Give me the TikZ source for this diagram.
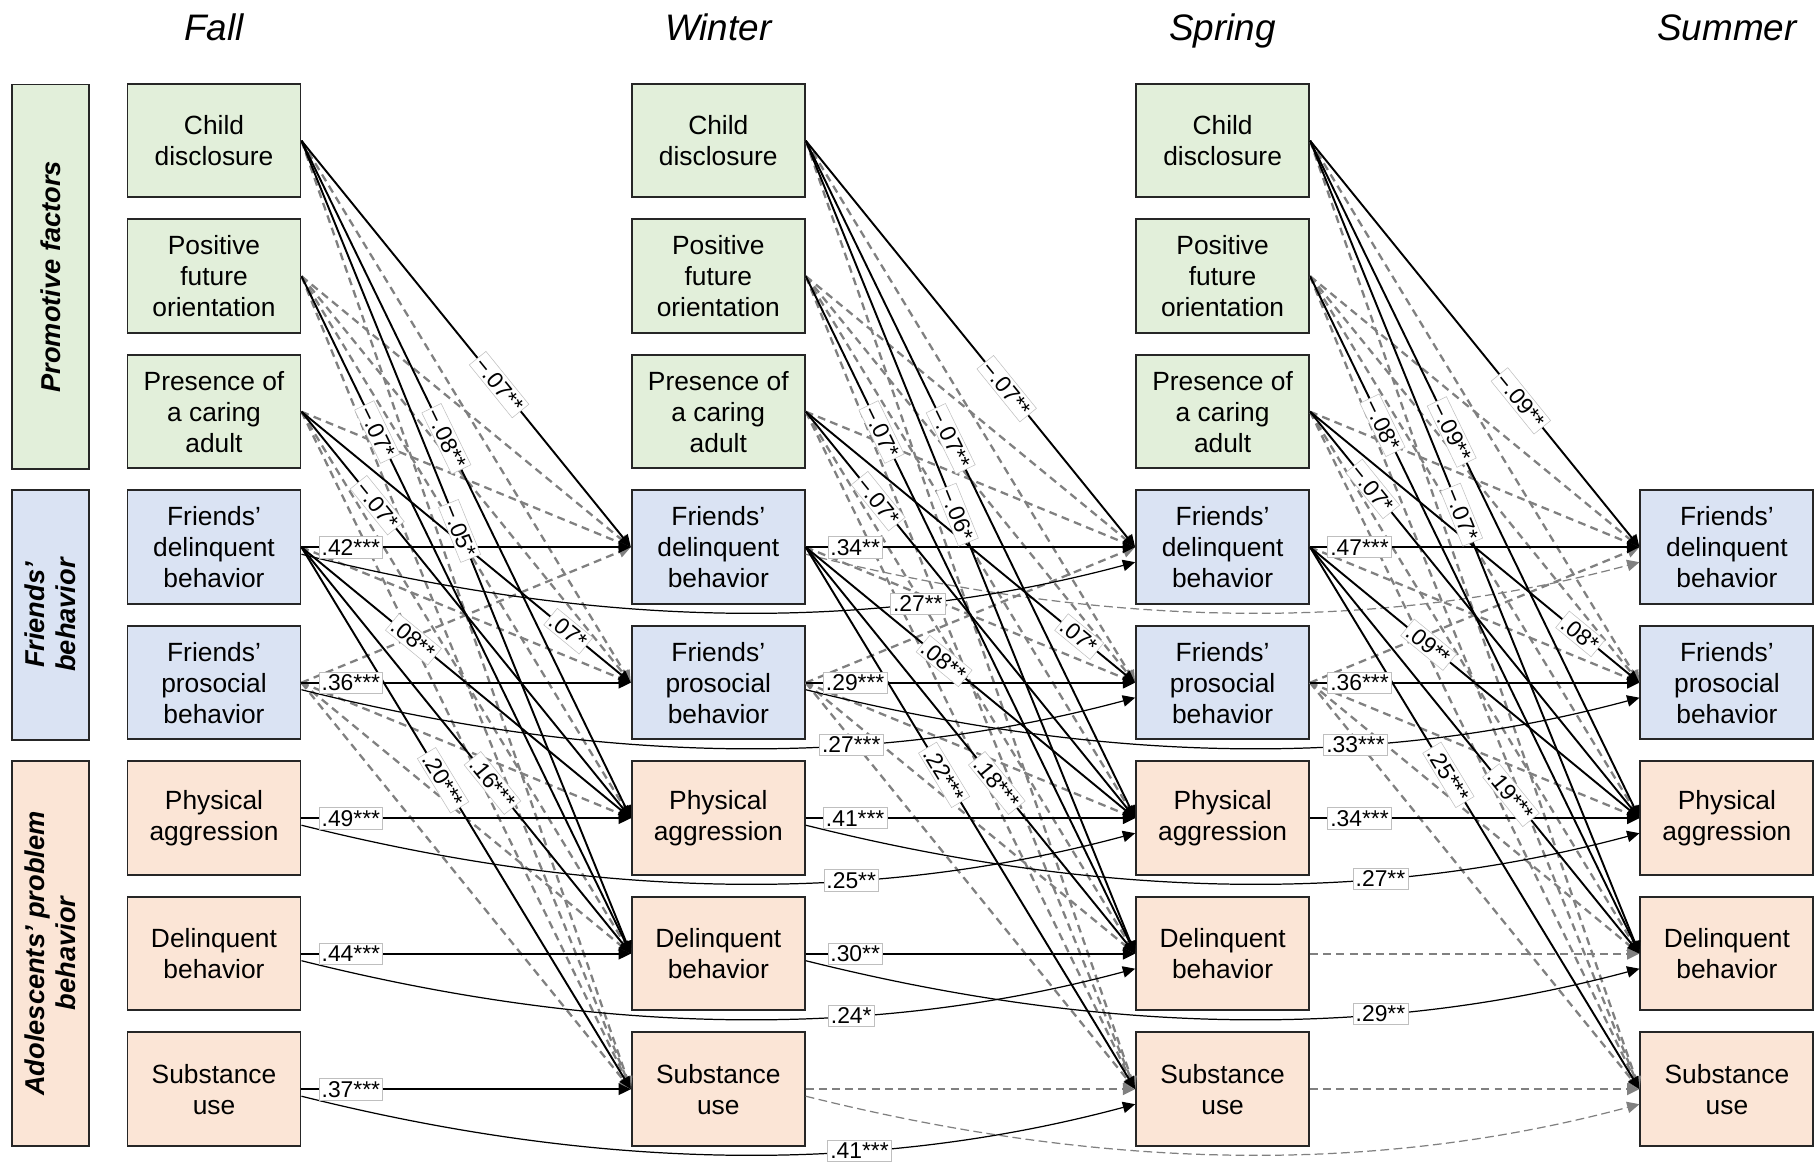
\documentclass[tikz,border=0pt]{standalone}
\usepackage{fontspec}
\setmainfont{Liberation Sans}
\usetikzlibrary{arrows.meta,calc}

\definecolor{promogreen}{RGB}{226,239,218}
\definecolor{friendblue}{RGB}{218,227,243}
\definecolor{problempeach}{RGB}{251,229,214}
\definecolor{pathgray}{RGB}{128,128,128}

\tikzset{
  varbox/.style={draw=black!85, line width=1.1pt, minimum width=3.46cm, minimum height=2.27cm,
    align=center, inner sep=2pt, font=\fontsize{15}{17.6}\selectfont},
  grouplabel/.style={draw=black!85, line width=1.1pt, rotate=90, minimum height=1.55cm,
    align=center, font=\fontsize{15.5}{18}\selectfont\bfseries\itshape},
  season/.style={anchor=base, font=\fontsize{21}{25}\selectfont\itshape},
  sigpath/.style={line width=1.1pt, -{Triangle[length=7pt,width=6.5pt]}},
  nspath/.style={pathgray, line width=1.3pt, dash pattern=on 4.5pt off 3pt, -{Triangle[length=7pt,width=6.5pt]}},
  lagpath/.style={line width=0.7pt, -{Triangle[length=7pt,width=6.5pt]}},
  coef/.style={fill=white, draw=black!25, line width=0.3pt, inner xsep=1.5pt, inner ysep=1.5pt,
    font=\fontsize{13}{15}\selectfont},
}

% significant paths: from/to/predictor/outcome/coefficient/pos
\def\sigcross{f/w/cd/fd/{−.07**}/0.60, f/w/cd/pa/{−.08**}/0.44, f/w/cd/db/{−.05*}/0.48,
  f/w/pf/db/{−.07*}/0.23, f/w/pc/pa/{−.07*}/0.23, f/w/pc/fp/{.07*}/0.81,
  f/w/fd/pa/{.08**}/0.34, f/w/fd/db/{.16***}/0.58, f/w/fd/su/{.20***}/0.43,
  w/s/cd/fd/{−.07**}/0.61, w/s/cd/pa/{−.07**}/0.44, w/s/cd/db/{−.06*}/0.46,
  w/s/pf/db/{−.07*}/0.23, w/s/pc/pa/{−.07*}/0.22, w/s/pc/fp/{.07*}/0.83,
  w/s/fd/pa/{.08**}/0.42, w/s/fd/db/{.18***}/0.58, w/s/fd/su/{.22***}/0.42,
  s/u/cd/fd/{−.09**}/0.64, s/u/cd/pa/{−.09**}/0.43, s/u/cd/db/{−.07*}/0.46,
  s/u/pf/db/{−.08*}/0.22, s/u/pc/pa/{−.07*}/0.19, s/u/pc/fp/{.08*}/0.82,
  s/u/fd/pa/{.09**}/0.36, s/u/fd/db/{.19***}/0.61, s/u/fd/su/{.25***}/0.42}
\def\autolist{f/w/fd/{.42***}, f/w/fp/{.36***}, f/w/pa/{.49***}, f/w/db/{.44***}, f/w/su/{.37***},
  w/s/fd/{.34**}, w/s/fp/{.29***}, w/s/pa/{.41***}, w/s/db/{.30**},
  s/u/fd/{.47***}, s/u/fp/{.36***}, s/u/pa/{.34***}}
\def\lagtwolist{f/s/fd/{.27**}/0.74, f/s/fp/{.27***}/0.66, f/s/pa/{.25**}/0.66, f/s/db/{.24*}/0.66,
  f/s/su/{.41***}/0.67, w/u/fp/{.33***}/0.66, w/u/pa/{.27**}/0.69, w/u/db/{.29**}/0.69}

\begin{document}
\begin{tikzpicture}[x=0.02cm, y=0.02cm]
\useasboundingbox (0,0) rectangle (1816,-1165);

% waves
\foreach \c/\x/\t in {f/214/Fall, w/718.3/Winter, s/1222.6/Spring, u/1726.9/Summer}
  \node[season] (\c-title) at (\x,-41) {\t};

% construct groups
\node[grouplabel, fill=promogreen, minimum width=7.69cm] (g-promo) at (50.4,-276.7) {Promotive factors};
\node[grouplabel, fill=friendblue, minimum width=5.0cm] (g-friends) at (50.4,-615) {Friends’\\behavior};
\node[grouplabel, fill=problempeach, minimum width=7.7cm] (g-problem) at (50.4,-953.5) {Adolescents’ problem\\behavior};

% variables (Summer only from row 3 on)
\foreach \c/\x/\first in {f/214/0, w/718.3/0, s/1222.6/0, u/1726.9/3}
  \foreach \r/\i/\col/\txt in {cd/0/promogreen/{Child\\disclosure}, pf/1/promogreen/{Positive\\future\\orientation},
      pc/2/promogreen/{Presence of\\a caring\\adult}, fd/3/friendblue/{Friends’\\delinquent\\behavior},
      fp/4/friendblue/{Friends’\\prosocial\\behavior}, pa/5/problempeach/{Physical\\aggression},
      db/6/problempeach/{Delinquent\\behavior}, su/7/problempeach/{Substance\\use}} {
    \ifnum\i<\first\else
      \node[varbox, fill=\col] (\c-\r) at (\x,-140.7-135.5*\i) {\txt};
    \fi
  }

% non-significant paths
\foreach \a/\b in {f/w, w/s, s/u}
  \foreach \p/\q in {cd/fp, cd/su, pf/fd, pf/fp, pf/pa, pf/su, pc/fd, pc/db, pc/su,
      fd/fp, fp/fd, fp/pa, fp/db, fp/su}
    \draw[nspath] (\a-\p.east) -- (\b-\q.west);
\foreach \a/\b/\r in {w/s/su, s/u/db, s/u/su}
  \draw[nspath] (\a-\r.east) -- (\b-\r.west);
\foreach \a/\b/\r in {w/u/fd, w/u/su}
  \draw[lagpath, pathgray, dash pattern=on 5pt off 2.5pt] ($(\a-\r.east)+(0,-7)$)
    .. controls +(280,-70) and +(-280,-75) .. ($(\b-\r.west)+(0,-15)$);

% significant paths
\foreach \a/\b/\p/\q/\lab/\ps in \sigcross
  \draw[sigpath] (\a-\p.east) -- (\b-\q.west);
\foreach \a/\b/\r/\lab in \autolist
  \draw[sigpath] (\a-\r.east) -- (\b-\r.west);
\foreach \a/\b/\r/\lab/\ps in \lagtwolist
  \draw[lagpath] ($(\a-\r.east)+(0,-7)$) .. controls +(280,-70) and +(-280,-75) .. ($(\b-\r.west)+(0,-15)$);

% coefficients on top
\foreach \a/\b/\p/\q/\lab/\ps in \sigcross
  \path (\a-\p.east) -- node[coef, sloped, pos=\ps] (k-\a-\p-\q) {\lab} (\b-\q.west);
\foreach \a/\b/\r/\lab in \autolist
  \path (\a-\r.east) -- node[coef, pos=0.15] (k-\a-\r) {\lab} (\b-\r.west);
\foreach \a/\b/\r/\lab/\ps in \lagtwolist
  \path ($(\a-\r.east)+(0,-7)$) .. controls +(280,-70) and +(-280,-75) .. node[coef, pos=\ps] (k2-\a-\r) {\lab} ($(\b-\r.west)+(0,-15)$);
\end{tikzpicture}
\end{document}
